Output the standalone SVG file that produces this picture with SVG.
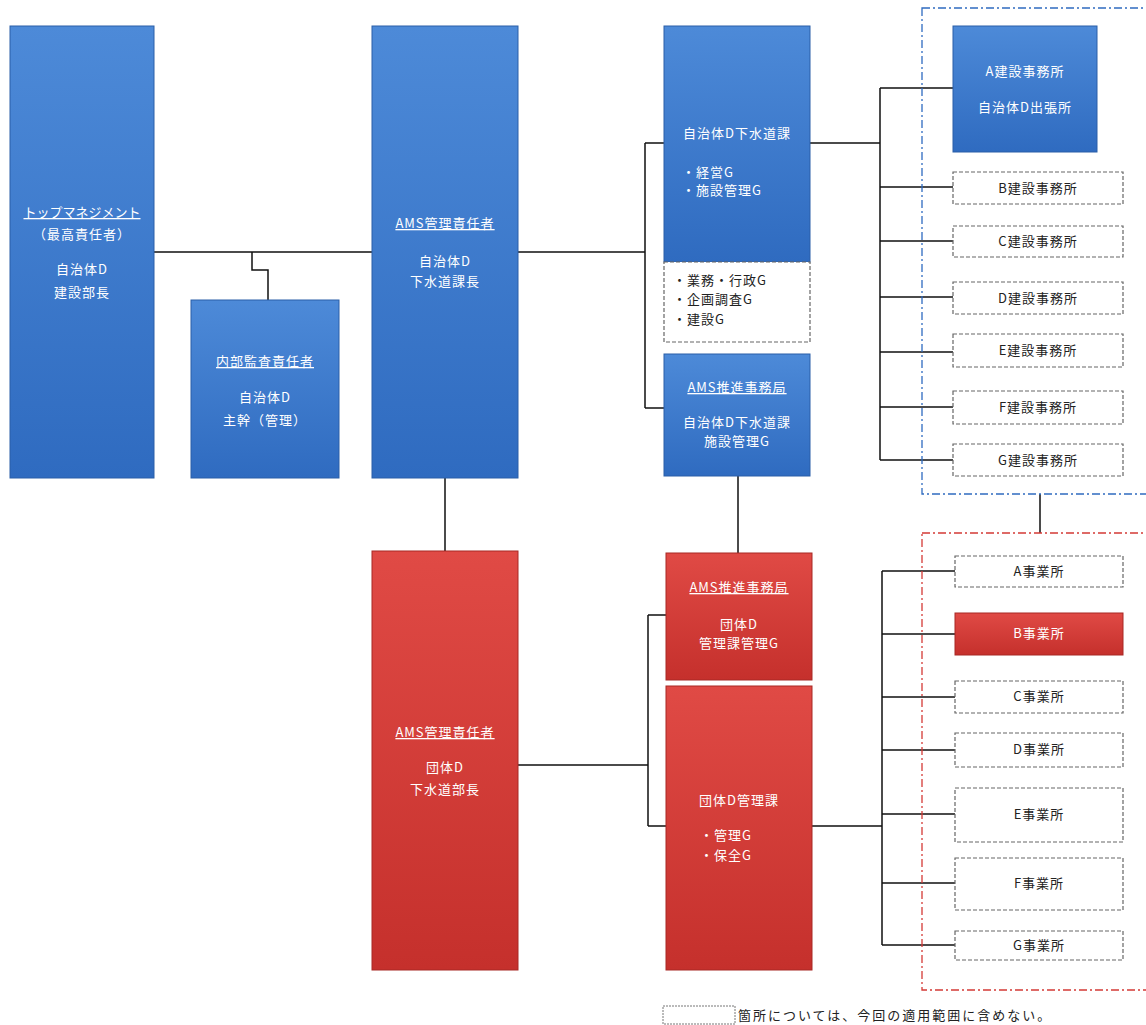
<svg xmlns="http://www.w3.org/2000/svg" width="1146" height="1025" viewBox="0 0 1146 1025">
<defs>
<linearGradient id="gb" x1="0" y1="0" x2="0" y2="1"><stop offset="0" stop-color="#4d8ad8"/><stop offset="1" stop-color="#2f6bc0"/></linearGradient>
<linearGradient id="gr" x1="0" y1="0" x2="0" y2="1"><stop offset="0" stop-color="#e04a45"/><stop offset="1" stop-color="#c5302c"/></linearGradient>
<style>
.b{fill:url(#gb);stroke:#2a5fa8;stroke-width:1}
.r{fill:url(#gr);stroke:#a82824;stroke-width:1}
.d{fill:#fff;stroke:#666;stroke-width:1.2;stroke-dasharray:4 2}
.t{font-family:"Noto Sans CJK JP","Liberation Sans",sans-serif;font-size:13px;letter-spacing:1px;fill:#fff;text-anchor:middle}
.k{font-family:"Noto Sans CJK JP","Liberation Sans",sans-serif;font-size:13px;letter-spacing:1px;fill:#222;text-anchor:middle}
.kl{font-family:"Noto Sans CJK JP","Liberation Sans",sans-serif;font-size:13px;letter-spacing:1px;fill:#222}
.tl{font-family:"Noto Sans CJK JP","Liberation Sans",sans-serif;font-size:13px;letter-spacing:1px;fill:#fff}
.u{text-decoration:underline}
.c{fill:none;stroke:#111;stroke-width:1.5}
</style>
</defs>
<rect width="1146" height="1025" fill="#fff"/>
<g id="connectors" class="c">
<path d="M154 252H372M252 252V270H268V300"/>
<path d="M518 252H645M645 143V408M645 143H664M645 408H664"/>
<path d="M810 143H880M880 88V460M880 88H953M880 187H953M880 241H953M880 297H953M880 352H953M880 407H953M880 460H953"/>
<path d="M445 478V551M738 476V553M1040 494V533"/>
<path d="M518 765H648M648 615V826M648 615H666M648 826H666"/>
<path d="M812 826H882M882 571V945M882 571H955M882 634H955M882 697H955M882 750H955M882 814H955M882 883H955M882 945H955"/>
</g>
<g id="region-blue"><rect x="922" y="8" width="230" height="486" fill="none" stroke="#2f6bc0" stroke-width="1.3" stroke-dasharray="8 3 2 3"/></g>
<g id="region-red"><rect x="922" y="533" width="230" height="457" fill="none" stroke="#d43a36" stroke-width="1.3" stroke-dasharray="8 3 2 3"/></g>
<g id="top"><rect class="b" x="10" y="26" width="144" height="452"/>
<text class="t u" x="82" y="217" style="letter-spacing:0">トップマネジメント</text><text class="t" x="82" y="239">（最高責任者）</text><text class="t" x="82" y="274">自治体D</text><text class="t" x="82" y="297">建設部長</text></g>
<g id="audit"><rect class="b" x="191" y="300" width="148" height="178"/>
<text class="t u" x="265" y="366">内部監査責任者</text><text class="t" x="265" y="402">自治体D</text><text class="t" x="265" y="425">主幹（管理）</text></g>
<g id="ams-blue"><rect class="b" x="372" y="26" width="146" height="452"/>
<text class="t u" x="445" y="228">AMS管理責任者</text><text class="t" x="445" y="266">自治体D</text><text class="t" x="445" y="286">下水道課長</text></g>
<g id="sewer"><rect class="b" x="664" y="26" width="146" height="236"/>
<text class="t" x="737" y="138">自治体D下水道課</text><text class="tl" x="682" y="177">・経営G</text><text class="tl" x="682" y="195">・施設管理G</text></g>
<g id="sewer-other"><rect class="d" x="664" y="262" width="146" height="80"/>
<text class="kl" x="673" y="285">・業務・行政G</text><text class="kl" x="673" y="304">・企画調査G</text><text class="kl" x="673" y="324">・建設G</text></g>
<g id="office-blue"><rect class="b" x="664" y="354" width="146" height="122"/>
<text class="t u" x="737" y="392">AMS推進事務局</text><text class="t" x="737" y="427">自治体D下水道課</text><text class="t" x="737" y="446">施設管理G</text></g>
<g id="kA"><rect class="b" x="953" y="26" width="144" height="126"/>
<text class="t" x="1025" y="76">A建設事務所</text><text class="t" x="1025" y="112">自治体D出張所</text></g>
<g id="kB"><rect class="d" x="953" y="172" width="170" height="32"/><text class="k" x="1038" y="193">B建設事務所</text></g>
<g id="kC"><rect class="d" x="953" y="226" width="170" height="31"/><text class="k" x="1038" y="246">C建設事務所</text></g>
<g id="kD"><rect class="d" x="953" y="282" width="170" height="32"/><text class="k" x="1038" y="303">D建設事務所</text></g>
<g id="kE"><rect class="d" x="953" y="334" width="170" height="33"/><text class="k" x="1038" y="355">E建設事務所</text></g>
<g id="kF"><rect class="d" x="953" y="391" width="170" height="33"/><text class="k" x="1038" y="412">F建設事務所</text></g>
<g id="kG"><rect class="d" x="953" y="444" width="170" height="32"/><text class="k" x="1038" y="465">G建設事務所</text></g>
<g id="ams-red"><rect class="r" x="372" y="551" width="146" height="419"/>
<text class="t u" x="445" y="737">AMS管理責任者</text><text class="t" x="445" y="772">団体D</text><text class="t" x="445" y="794">下水道部長</text></g>
<g id="office-red"><rect class="r" x="666" y="553" width="146" height="127"/>
<text class="t u" x="739" y="592">AMS推進事務局</text><text class="t" x="739" y="629">団体D</text><text class="t" x="739" y="648">管理課管理G</text></g>
<g id="mgmt"><rect class="r" x="666" y="686" width="146" height="284"/>
<text class="t" x="739" y="805">団体D管理課</text><text class="tl" x="700" y="840">・管理G</text><text class="tl" x="700" y="860">・保全G</text></g>
<g id="jA"><rect class="d" x="955" y="556" width="168" height="31"/><text class="k" x="1039" y="576" font-size="12">A事業所</text></g>
<g id="jB"><rect class="r" x="955" y="613" width="168" height="42"/><text class="t" x="1039" y="638" font-size="12">B事業所</text></g>
<g id="jC"><rect class="d" x="955" y="681" width="168" height="32"/><text class="k" x="1039" y="701" font-size="12">C事業所</text></g>
<g id="jD"><rect class="d" x="955" y="733" width="168" height="34"/><text class="k" x="1039" y="754" font-size="12">D事業所</text></g>
<g id="jE"><rect class="d" x="955" y="788" width="168" height="54"/><text class="k" x="1039" y="819" font-size="12">E事業所</text></g>
<g id="jF"><rect class="d" x="955" y="858" width="168" height="52"/><text class="k" x="1039" y="888" font-size="12">F事業所</text></g>
<g id="jG"><rect class="d" x="955" y="931" width="168" height="29"/><text class="k" x="1039" y="950" font-size="12">G事業所</text></g>
<g id="legend"><rect x="663" y="1006" width="72" height="18" fill="#fff" stroke="#777" stroke-width="1" stroke-dasharray="2 1"/>
<text class="kl" x="738" y="1020" style="letter-spacing:2px">箇所については、今回の適用範囲に含めない。</text></g>
</svg>
